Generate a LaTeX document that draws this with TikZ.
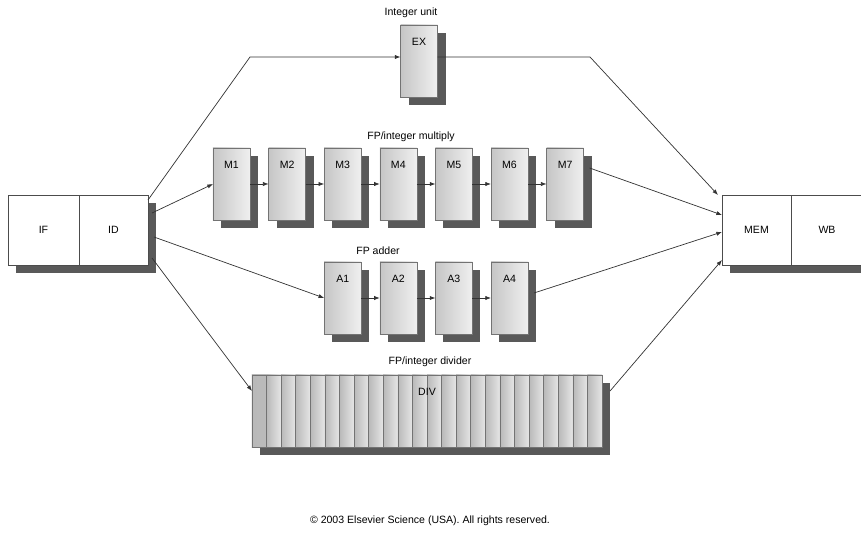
\documentclass[tikz,border=0pt]{standalone}
\usepackage{fontspec}
\setmainfont{Liberation Sans}
\usepackage{tikz}
\usetikzlibrary{positioning, arrows.meta, shadows, calc}

\begin{document}
\begin{tikzpicture}[x=0.025cm, y=-0.025cm,
    font=\fontsize{7.5}{9}\selectfont,
    arr/.style={draw=black!80, line width=0.5pt, -{Latex[length=4pt, width=3pt]}},
    shade/.style={drop shadow={shadow xshift=0.2cm, shadow yshift=-0.2cm, fill=black!65, opacity=1}},
    stagebox/.style={draw=black!70, fill=white, minimum height=1.75cm, inner sep=0pt, outer sep=0pt, shade},
    unit/.style={draw=black!55, left color=gray!45, right color=gray!12, minimum width=0.925cm,
        minimum height=1.8cm, inner sep=0pt, outer sep=0pt, shade},
    unitname/.style={label={[anchor=north, yshift=-0.2cm]north:#1}},
    title/.style={inner sep=1pt}]
        \useasboundingbox (0,0) rectangle (861,543);

        % Draw IF/ID and MEM/WB
        \node[stagebox, minimum width=1.775cm] (IF) at (43.5,230) {IF};
        \node[stagebox, minimum width=1.725cm] (ID) at (113.5,230) {ID};
        \node[stagebox, minimum width=1.725cm] (MEM) at (756.5,230) {MEM};
        \node[stagebox, minimum width=2cm, text width=1.775cm, align=left, inner xsep=0pt] (WB) at (831,230) {\hspace*{0.575cm}WB};

        % Draw integer unit
        \node[title] (intlbl) at (411,13) {Integer unit};
        \node[unit, unitname=EX] (EX) at (419,61) {};

        % Draw FP/integer multiply
        \node[title] (mullbl) at (411,137) {FP/integer multiply};
        \foreach \i [evaluate=\i as \x using 231.5+55.6*(\i-1)] in {1,...,7}
            \node[unit, unitname=M\i] (M\i) at (\x,184) {};
        \foreach \i [count=\j from 2] in {1,...,6}
            \draw[arr] (M\i) -- (M\j);

        % Draw FP adder
        \node[title] (addlbl) at (378,251) {FP adder};
        \foreach \i [evaluate=\i as \x using 231.5+55.6*(\i+1)] in {1,...,4}
            \node[unit, unitname=A\i] (A\i) at (\x,298) {};
        \foreach \i [count=\j from 2] in {1,...,3}
            \draw[arr] (A\i) -- (A\j);

        % Draw FP/integer divider
        \node[title] (divlbl) at (430,362) {FP/integer divider};
        \node[unit, minimum width=8.75cm, unitname=DIV,
            path picture={
                \foreach \k in {0,...,23}
                    \shadedraw[draw=black!55, left color=gray!55, right color=gray!20]
                        ($(path picture bounding box.north west)!\k/24!(path picture bounding box.north east)$)
                        rectangle
                        ($(path picture bounding box.south west)!{(\k+1)/24}!(path picture bounding box.south east)$);
            }] (DIV) at (427,411) {};

        % Draw connections
        \coordinate (exin) at (250,57);
        \coordinate (exout) at (590,57);
        \draw[arr] ([yshift=0.75cm]ID.east) -- (exin) -- ([yshift=0.1cm]EX.west);
        \draw[arr] ([yshift=0.1cm]EX.east) -- (exout) -- ([xshift=-0.1cm]MEM.north west);
        \draw[arr] ([xshift=0.1cm, yshift=0.425cm]ID.east) -- (M1.west);
        \draw[arr] ([xshift=0.15cm, yshift=-0.175cm]ID.east) -- (A1.west);
        \draw[arr] ([xshift=0.1cm, yshift=-0.7cm]ID.east) -- ([yshift=0.5cm]DIV.west);
        \draw[arr] ([xshift=0.15cm, yshift=0.4cm]M7.east) -- ([yshift=0.375cm]MEM.west);
        \draw[arr] ([xshift=0.15cm, yshift=0.125cm]A4.east) -- ([yshift=-0.05cm]MEM.west);
        \draw[arr] ([xshift=0.2cm, yshift=0.5cm]DIV.east) -- ([yshift=-0.75cm]MEM.west);

        % Copyright
        \node[title] (copy) at (430,521) {\copyright{} 2003 Elsevier Science (USA). All rights reserved.};
    \end{tikzpicture}
\end{document}
